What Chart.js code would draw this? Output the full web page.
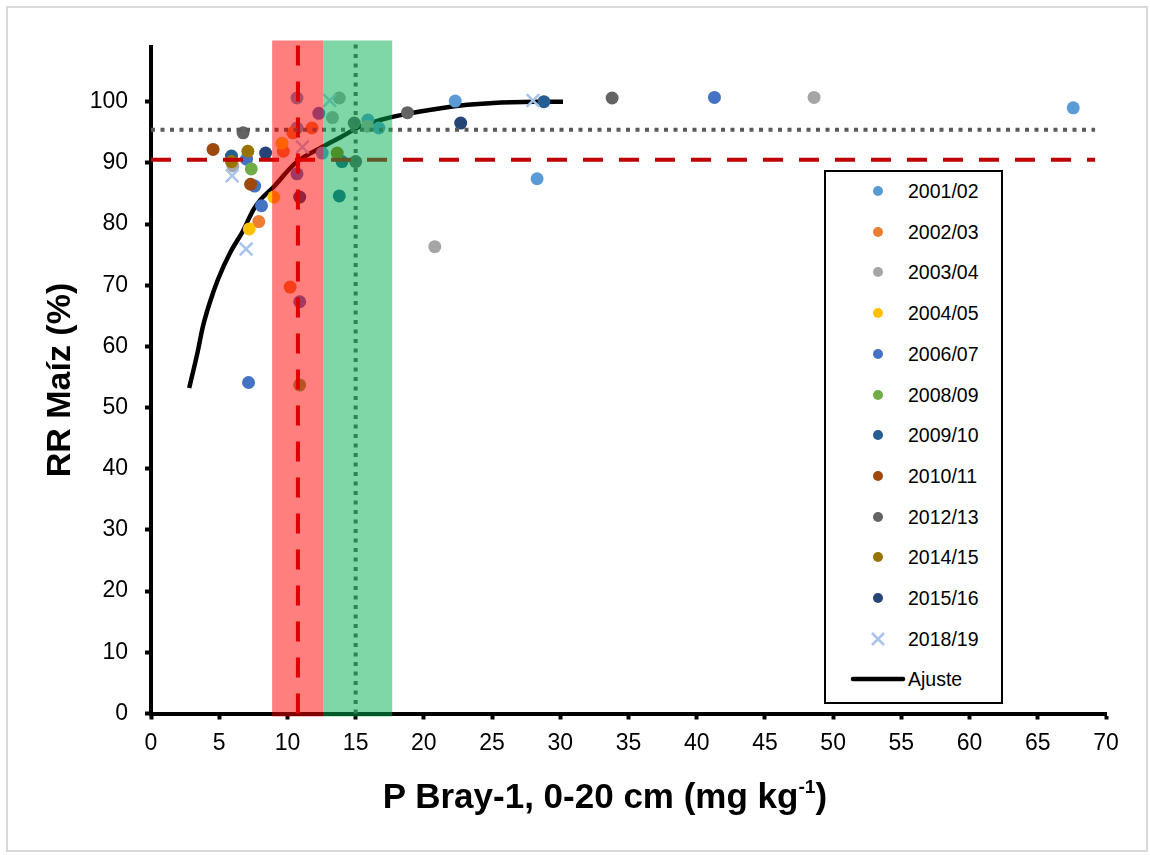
<!DOCTYPE html>
<html>
<head>
<meta charset="utf-8">
<title>RR Maíz vs P Bray-1</title>
<script src="https://cdn.jsdelivr.net/npm/chart.js@4"></script>
<style>
    html, body { margin: 0; padding: 0; background: #fff; }
    #wrap { position: relative; width: 1150px; height: 855px; overflow: hidden; }
    #frame { position: absolute; left: 6px; top: 6px; width: 1142px; height: 846px;
             border: 2px solid #d9d9d9; box-sizing: border-box; }
    #c { position: absolute; left: 0; top: 0; }
    #xTitle { position: absolute; left: 0; width: 1210px; top: 776px; line-height: 40px;
              text-align: center; font: bold 35px "Liberation Sans", Arial, sans-serif; color: #000; }
    #xTitle sup { font-size: 0.55em; line-height: 0; vertical-align: 0.8em; }
    #legend { position: absolute; left: 824px; top: 170px; width: 179px; height: 534px;
              border: 2px solid #000; box-sizing: border-box; background: #fff;
              font: 19.5px "Liberation Sans", Arial, sans-serif; color: #000; }
    .item { position: absolute; left: 0; width: 100%; height: 24px; line-height: 24px; }
    .item .mk { position: absolute; left: 47px; top: 7px; width: 10px; height: 10px; border-radius: 50%; }
    .item svg { position: absolute; left: 0; top: 0; }
    .item .tx { position: absolute; left: 82px; top: 0; white-space: nowrap; }
</style>
</head>
<body>
<div id="wrap">
    <div id="frame"></div>
    <canvas id="c" width="1150" height="855"></canvas>
    <div id="xTitle">P Bray-1, 0-20 cm (mg kg<sup>-1</sup>)</div>
    <div id="legend"></div>
</div>
<script>
(function () {
    'use strict';

    // ---- data ----
    var seasons = ['2001/02', '2002/03', '2003/04', '2004/05', '2006/07', '2008/09',
                   '2009/10', '2010/11', '2012/13', '2014/15', '2015/16', '2018/19'];
    var seasonColors = ['#5B9BD5', '#ED7D31', '#A5A5A5', '#FFC000', '#4472C4', '#70AD47',
                        '#255E91', '#9E480E', '#636363', '#997300', '#264478', '#A9C4EB'];

    var x0102 = [67.6, 22.3, 28.3, 10.7, 10.7, 12.55, 15.9, 16.7];
    var y0102 = [99.0, 100.1, 87.4, 100.6, 95.7, 91.6, 97.0, 95.7];
    var x0203 = [7.9, 11.8, 10.4, 9.7, 10.2];
    var y0203 = [80.4, 95.7, 94.9, 91.9, 69.7];
    var x0304 = [48.6, 20.8, 6.0, 13.8, 13.3, 15.85];
    var y0304 = [100.7, 76.3, 89.5, 100.6, 97.4, 96.0];
    var x0405 = [7.2, 9.0, 9.6];
    var y0405 = [79.2, 84.4, 93.2];
    var x0607 = [41.3, 7.15, 8.1, 7.6, 7.0, 12.3, 10.7, 10.9];
    var y0607 = [100.7, 54.1, 83.0, 86.2, 90.6, 98.1, 88.2, 67.3];
    var x0809 = [7.35, 10.9];
    var y0809 = [89.0, 53.7];
    var x0910 = [28.8, 5.9, 14.0, 13.8];
    var y0910 = [100.0, 91.1, 90.2, 84.6];
    var x1011 = [4.55, 7.3];
    var y1011 = [92.2, 86.5];
    var x1213 = [33.8, 18.8, 6.75, 14.9, 15.0];
    var y1213 = [100.6, 98.2, 94.9, 96.5, 90.2];
    var x1415 = [7.1, 5.9, 13.65];
    var y1415 = [91.9, 90.2, 91.6];
    var x1516 = [22.7, 8.4, 10.9];
    var y1516 = [96.5, 91.6, 84.4];
    var x1819 = [28.0, 5.95, 6.97, 13.1, 11.1];
    var y1819 = [100.2, 87.9, 75.9, 100.2, 92.6];

    var seasonX = [x0102, x0203, x0304, x0405, x0607, x0809, x0910, x1011, x1213, x1415, x1516, x1819];
    var seasonY = [y0102, y0203, y0304, y0405, y0607, y0809, y0910, y1011, y1213, y1415, y1516, y1819];

    // fitted curve ("Ajuste")
    var fitX = [2.8, 3.4, 3.8, 4.3, 4.9, 5.8, 6.7, 7.5, 8.0, 9.0, 10.6, 12.55, 13.9, 15.3, 16.8, 18.3, 20.3, 23.2, 28.1, 30.2];
    var fitY = [53.2, 58.9, 63.2, 67.1, 70.9, 75.3, 78.7, 82.3, 83.9, 86.1, 90.0, 92.6, 94.2, 95.9, 97.0, 97.8, 98.6, 99.5, 100.0, 100.0];

    // reference lines and bands
    var critRR = 90.5;        // red dashed horizontal
    var suffRR = 95.4;        // grey dotted horizontal
    var hLineX = [0, 69.2];
    var critP = 10.77;        // red dashed vertical
    var suffP = 15.0;         // grey dotted vertical
    var vLineY = [0, 110];
    var redBand = [8.88, 12.62];
    var greenBand = [12.62, 17.68];
    var bandTop = 110;

    var xTickValues = [0, 5, 10, 15, 20, 25, 30, 35, 40, 45, 50, 55, 60, 65, 70];
    var yTickValues = [0, 10, 20, 30, 40, 50, 60, 70, 80, 90, 100];

    var FONT = '"Liberation Sans", Arial, sans-serif';

    function pts(xs, ys) {
        return xs.map(function (x, i) { return { x: x, y: ys[i] }; });
    }

    var datasets = [];

    // bands on top of everything (tint what lies below)
    var bandPlugin = {
        id: 'bands',
        afterDatasetsDraw: function (chart) {
            var ctx = chart.ctx;
            var xs = chart.scales.x, ys = chart.scales.y;
            var top = ys.getPixelForValue(bandTop);
            var bottom = chart.chartArea.bottom + 3;
            var list = [[redBand, 'rgba(255,0,0,0.5)'], [greenBand, 'rgba(0,176,80,0.5)']];
            ctx.save();
            for (var i = 0; i < list.length; i++) {
                var x1 = xs.getPixelForValue(list[i][0][0]);
                var x2 = xs.getPixelForValue(list[i][0][1]);
                ctx.fillStyle = list[i][1];
                ctx.fillRect(x1, top, x2 - x1, bottom - top);
            }
            ctx.restore();
        }
    };

    // reference lines
    datasets.push({
        type: 'line', label: 'crit', data: pts(hLineX, [critRR, critRR]),
        borderColor: '#C00000', borderWidth: 4, borderDash: [20, 16], pointRadius: 0,
        fill: false, order: -10, clip: false
    });
    datasets.push({
        type: 'line', label: 'suf', data: pts(hLineX, [suffRR, suffRR]),
        borderColor: '#595959', borderWidth: 4, borderDash: [4, 5.5], pointRadius: 0,
        fill: false, order: -10, clip: false
    });
    datasets.push({
        type: 'line', label: 'critP', data: pts([critP, critP], vLineY),
        borderColor: '#C00000', borderWidth: 4, borderDash: [20, 16], pointRadius: 0,
        fill: false, order: -10, clip: false
    });
    datasets.push({
        type: 'line', label: 'sufP', data: pts([suffP, suffP], vLineY),
        borderColor: '#595959', borderWidth: 4, borderDash: [4, 5.5], pointRadius: 0,
        fill: false, order: -10, clip: false
    });

    // season points — later seasons on top
    for (var i = 0; i < seasons.length; i++) {
        var isCross = i === seasons.length - 1;
        datasets.push({
            type: 'scatter',
            label: seasons[i],
            data: pts(seasonX[i], seasonY[i]),
            pointStyle: isCross ? 'crossRot' : 'circle',
            pointRadius: isCross ? 9 : 6.5,
            pointHoverRadius: isCross ? 9 : 6.5,
            backgroundColor: seasonColors[i],
            borderColor: seasonColors[i],
            borderWidth: isCross ? 2.5 : 0,
            order: 50 - i
        });
    }

    // fitted curve underneath the points
    datasets.push({
        type: 'line', label: 'Ajuste', data: pts(fitX, fitY),
        borderColor: '#000', borderWidth: 4.5, pointRadius: 0, fill: false,
        cubicInterpolationMode: 'monotone', order: 100
    });

    new Chart(document.getElementById('c').getContext('2d'), {
        data: { datasets: datasets },
        plugins: [bandPlugin],
        options: {
            responsive: false,
            animation: false,
            events: [],
            layout: { padding: { left: 0, top: 46.6, right: 44, bottom: 0 } },
            plugins: {
                legend: { display: false },
                tooltip: { enabled: false }
            },
            scales: {
                x: {
                    type: 'linear', min: 0, max: 70,
                    afterBuildTicks: function (s) { s.ticks = xTickValues.map(function (v) { return { value: v }; }); },
                    afterFit: function (s) { s.height = 141.5; },
                    grid: { drawOnChartArea: false, drawTicks: true, tickLength: 6, tickWidth: 4, tickColor: '#000' },
                    border: { display: true, color: '#000', width: 4 },
                    ticks: { color: '#000', font: { family: FONT, size: 23 }, padding: 10, maxRotation: 0, autoSkip: false },
                    title: { display: false }
                },
                y: {
                    type: 'linear', min: 0, max: 109,
                    afterBuildTicks: function (s) { s.ticks = yTickValues.map(function (v) { return { value: v }; }); },
                    afterFit: function (s) { s.width = 151; },
                    grid: { drawOnChartArea: false, drawTicks: true, tickLength: 6, tickWidth: 4, tickColor: '#000' },
                    border: { display: true, color: '#000', width: 4 },
                    ticks: { color: '#000', font: { family: FONT, size: 23 }, padding: 17, autoSkip: false },
                    title: {
                        display: true, text: 'RR Maíz (%)', color: '#000',
                        font: { family: FONT, size: 34, weight: 'bold' },
                        padding: { top: 40.6, bottom: 0 }
                    }
                }
            }
        }
    });

    // ---- legend (HTML) ----
    var legendEl = document.getElementById('legend');
    var rowStep = 40.7;
    var html = '';
    for (var j = 0; j < seasons.length; j++) {
        var top = 19 + rowStep * j - 12;
        var marker;
        if (j === seasons.length - 1) {
            marker = '<svg width="70" height="24"><path d="M46 6 L58 18 M58 6 L46 18" stroke="' +
                seasonColors[j] + '" stroke-width="2.5"/></svg>';
        } else {
            marker = '<span class="mk" style="background:' + seasonColors[j] + ';"></span>';
        }
        html += '<div class="item" style="top:' + top + 'px;">' + marker +
            '<span class="tx">' + seasons[j] + '</span></div>';
    }
    var fitTop = 19 + rowStep * seasons.length - 12;
    html += '<div class="item" style="top:' + fitTop + 'px;">' +
        '<svg width="80" height="24"><line x1="27" y1="12" x2="77" y2="12" stroke="#000" stroke-width="4.5" stroke-linecap="round"/></svg>' +
        '<span class="tx">Ajuste</span></div>';
    legendEl.innerHTML = html;
})();
</script>
</body>
</html>
